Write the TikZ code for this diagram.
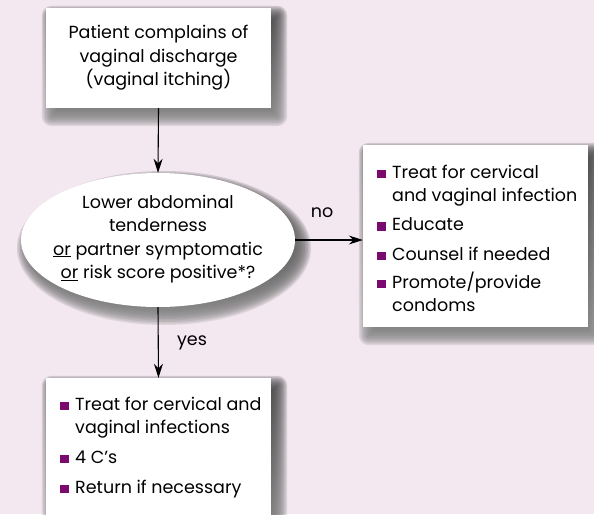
\documentclass[tikz,border=0pt]{standalone}
\usepackage{fontspec}
\setmainfont{Poppins}
\usetikzlibrary{arrows.meta,calc,shapes.geometric}

\definecolor{pagebg}{RGB}{243,232,240}
\definecolor{shade}{RGB}{158,88,170}
\definecolor{bulletc}{RGB}{122,10,110}

\pgfdeclarelayer{bgfill}
\pgfdeclarelayer{shadowlayer}
\pgfsetlayers{bgfill,shadowlayer,main}

% purple square bullet, sitting on the baseline
\newcommand\sqb{\makebox[15pt][l]{\textcolor{bulletc}{\rule{8.5pt}{8.5pt}}}}

\begin{document}
\begin{tikzpicture}[x=1pt,y=1pt,
  box/.style={fill=white, draw=none, inner sep=0pt, minimum width=225pt},
  txt/.style={font=\fontsize{17.5}{23.5}\selectfont, align=center, inner sep=0pt},
  lst/.style={font=\fontsize{17.5}{23}\selectfont, inner sep=0pt, anchor=base west},
  lab/.style={font=\fontsize{17.5}{20}\selectfont, inner sep=0pt},
  conn/.style={line width=1.1pt, -{Stealth[length=14pt,width=9pt]}},
]
\useasboundingbox (0,0) rectangle (594,-514);
\begin{pgfonlayer}{bgfill}
  \fill[pagebg] (0,0) rectangle (594,-514);
\end{pgfonlayer}

% boxes
\node[box, txt, minimum height=100pt] (top) at (158.5,-58)
  {Patient complains of\\vaginal discharge\\(vaginal itching)};
\node[ellipse, fill=white, minimum width=274pt, minimum height=134pt,
      inner sep=0pt] (ell) at (158,-240) {};
\node[txt] (elltext) at (158,-239)
  {Lower abdominal\\tenderness\\\underline{or} partner symptomatic\\
   \underline{or} risk score positive*?};
\node[box, minimum height=182pt] (right) at (475.5,-236) {};
\node[lst] (rlist) at (377,-178) {%
  \begin{tabular}[t]{@{}l@{}l@{}}
    \sqb & Treat for cervical\\
         & and vaginal infection\\[6.5pt]
    \sqb & Educate\\[6.5pt]
    \sqb & Counsel if needed\\[5pt]
    \sqb & Promote/provide\\
         & condoms
  \end{tabular}};
\node[box, minimum height=152pt] (bottom) at (158.5,-454) {};
\node[lst] (blist) at (60,-410) {%
  \begin{tabular}[t]{@{}l@{}l@{}}
    \sqb & Treat for cervical and\\
         & vaginal infections\\[7pt]
    \sqb & 4 C’s\\[7pt]
    \sqb & Return if necessary
  \end{tabular}};

% connectors
\draw[conn] (top.south) -- (ell.north);
\draw[conn] (ell.east) -- (ell.east -| right.west);
\draw[conn] (ell.south) -- (bottom.north);
\node[lab] (nolab) at (322,-213) {no};
\node[lab] (yeslab) at (192,-343) {yes};

% soft drop shadows
\begin{pgfonlayer}{shadowlayer}
  \foreach \n in {top,right,bottom}{
    \foreach \e [evaluate=\e as \r using {max(\e,0.5)}] in {-8,-6.5,...,10}
      \fill[shade, fill opacity=0.1, rounded corners=\r pt]
        ($(\n.south west)+({6-\e},{-8-\e})$) rectangle
        ($(\n.north east)+({6+\e},{-8+\e})$);
  }
  \foreach \e in {-8,-6.5,...,10}
    \fill[shade, fill opacity=0.1] ($(ell.center)+(6,-8)$)
      ellipse [x radius={137+\e}, y radius={67+\e}];
\end{pgfonlayer}
\end{tikzpicture}
\end{document}
